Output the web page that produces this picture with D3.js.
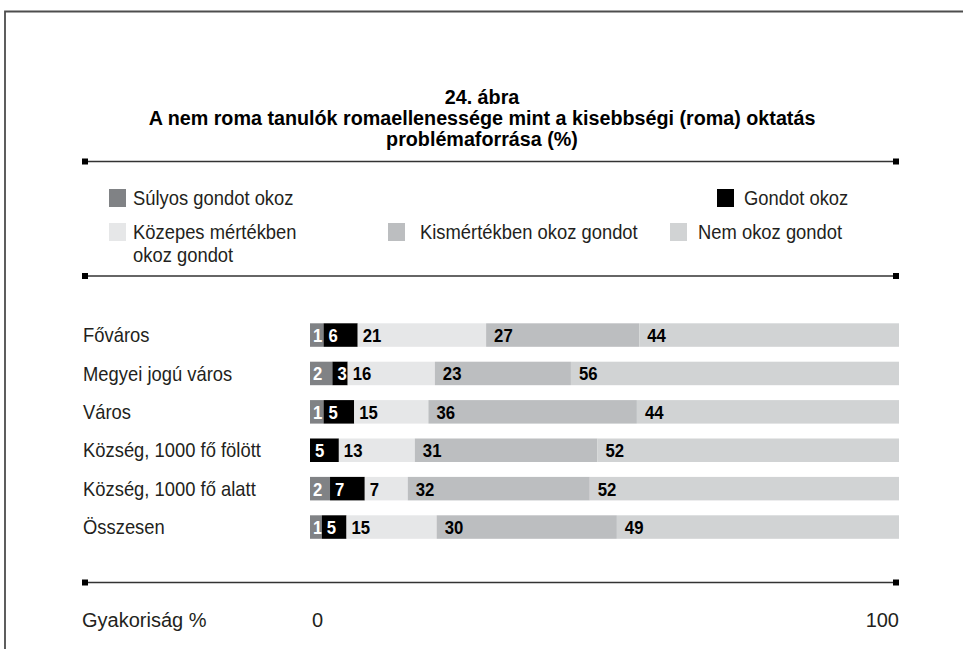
<!DOCTYPE html>
<html>
<head>
<meta charset="utf-8">
<script src="https://cdn.jsdelivr.net/npm/d3@7"></script>
<style>
  body { margin: 0; background: #fff; }
  svg text { font-family: "Liberation Sans", Arial, sans-serif; }
</style>
</head>
<body>
<div id="chart"></div>
<script>
// categories (rows)
var categories = ['Főváros', 'Megyei jogú város', 'Város', 'Község, 1000 fő fölött', 'Község, 1000 fő alatt', 'Összesen']

// series names, in stacking order
var seriesNames = ['Súlyos gondot okoz', 'Gondot okoz', 'Közepes mértékben okoz gondot', 'Kismértékben okoz gondot', 'Nem okoz gondot']

// segment widths (%)
var sulyos   = [2.3, 3.8, 2.3, 0, 3.4, 2.0]
var gondot   = [5.8, 2.6, 5.2, 4.9, 5.9, 4.2]
var kozepes  = [21.8, 14.8, 12.6, 12.9, 7.3, 15.3]
var kismert  = [26.0, 23.1, 35.4, 31.0, 30.9, 30.6]
var nemokoz  = [44.1, 55.7, 44.5, 51.2, 52.5, 47.9]

// numbers printed on the bars
var sulyosLbl  = ['1', '2', '1', '', '2', '1']
var gondotLbl  = ['6', '3', '5', '5', '7', '5']
var kozepesLbl = ['21', '16', '15', '13', '7', '15']
var kismertLbl = ['27', '23', '36', '31', '32', '30']
var nemokozLbl = ['44', '56', '44', '52', '52', '49']

var xTicks = [0, 100]

var colors = ['#808285', '#000000', '#e6e7e8', '#bcbec0', '#d1d3d4']
var labelColors = ['#fff', '#fff', '#000', '#000', '#000']

var width = 963, height = 649
var narrow = 0.92   // horizontal squeeze to mimic the condensed face

var svg = d3.select('#chart').append('svg')
  .attr('width', width).attr('height', height)

// frame (open to the right and bottom)
svg.append('path')
  .attr('d', 'M5,649V11.5H963')
  .attr('fill', 'none').attr('stroke', '#4d4d4d').attr('stroke-width', 1.8)

// title
var title = svg.append('text')
  .attr('transform', 'translate(482,0) scale(0.94,1)')
  .attr('text-anchor', 'middle')
  .style('font-weight', 'bold').style('font-size', '21px')
title.selectAll('tspan')
  .data(['24. ábra', 'A nem roma tanulók romaellenessége mint a kisebbségi (roma) oktatás', 'problémaforrása (%)'])
  .join('tspan')
  .attr('x', 0).attr('y', function(d, i){ return 104 + i * 21 })
  .text(function(d){ return d })

// horizontal rules with square ends
function rule(y){
  svg.append('line').attr('x1', 85).attr('x2', 896).attr('y1', y).attr('y2', y)
    .attr('stroke', '#333').attr('stroke-width', 1.6)
  svg.append('rect').attr('x', 82).attr('y', y - 3).attr('width', 6).attr('height', 6).attr('fill', '#000')
  svg.append('rect').attr('x', 893).attr('y', y - 3).attr('width', 6).attr('height', 6).attr('fill', '#000')
}
rule(161.5)
rule(276)
rule(582.5)

// legend
var legendItems = [
  {i: 0, x: 109, y: 189, tx: 24, lines: ['Súlyos gondot okoz']},
  {i: 2, x: 109, y: 223, tx: 24, lines: ['Közepes mértékben', 'okoz gondot']},
  {i: 3, x: 388, y: 223, tx: 32, lines: ['Kismértékben okoz gondot']},
  {i: 4, x: 670, y: 223, tx: 28, lines: ['Nem okoz gondot']},
  {i: 1, x: 717, y: 189, tx: 27, lines: ['Gondot okoz']}
]
var leg = svg.append('g').selectAll('g').data(legendItems).join('g')
leg.append('rect')
  .attr('x', function(d){ return d.x }).attr('y', function(d){ return d.y })
  .attr('width', 17).attr('height', 18)
  .attr('fill', function(d){ return colors[d.i] })
leg.append('text')
  .attr('transform', function(d){ return 'translate(' + (d.x + d.tx) + ',' + d.y + ') scale(' + narrow + ',1)' })
  .style('font-size', '20px').attr('fill', '#231f20')
  .selectAll('tspan').data(function(d){ return d.lines })
  .join('tspan')
  .attr('x', 0).attr('y', function(d, k){ return 16 + k * 23 })
  .text(function(d){ return d })

// scales
var x = d3.scaleLinear().domain([0, 100]).range([310, 899])
var y = d3.scaleBand().domain(categories).range([323.3, 538.8]).paddingInner(0.388).paddingOuter(0)

// stacked data
var table = categories.map(function(c, j){
  return {cat: c, v0: sulyos[j], v1: gondot[j], v2: kozepes[j], v3: kismert[j], v4: nemokoz[j],
    l0: sulyosLbl[j], l1: gondotLbl[j], l2: kozepesLbl[j], l3: kismertLbl[j], l4: nemokozLbl[j]}
})
var stack = d3.stack().keys(['v0', 'v1', 'v2', 'v3', 'v4'])
var layers = stack(table)

var layerSel = svg.append('g').selectAll('g').data(layers).join('g')
  .attr('fill', function(d, i){ return colors[i] })
layerSel.selectAll('rect').data(function(d){ return d }).join('rect')
  .attr('x', function(d){ return x(d[0]) })
  .attr('width', function(d){ return x(d[1]) - x(d[0]) })
  .attr('y', function(d){ return y(d.data.cat) })
  .attr('height', y.bandwidth())

var offsets = [3, 5, 5, 8, 8]
layerSel.selectAll('text').data(function(d, i){ return d.map(function(s){ return {s: s, i: i} }) }).join('text')
  .attr('transform', function(d){
    return 'translate(' + (x(d.s[0]) + offsets[d.i]) + ',' + (y(d.s.data.cat) + y.bandwidth() / 2) + ') scale(0.88,1)'
  })
  .attr('dy', '0.37em')
  .attr('fill', function(d){ return labelColors[d.i] })
  .style('font-weight', 'bold').style('font-size', '19px')
  .text(function(d){ return d.s.data['l' + d.i] })

// category labels
svg.append('g').selectAll('text').data(categories).join('text')
  .attr('transform', function(d){ return 'translate(83,' + (y(d) + y.bandwidth() / 2) + ') scale(' + narrow + ',1)' })
  .attr('dy', '0.36em')
  .style('font-size', '20px').attr('fill', '#231f20')
  .text(function(d){ return d })

// bottom scale labels
svg.append('text').attr('x', 82).attr('y', 627)
  .style('font-size', '20px').attr('fill', '#231f20').text('Gyakoriság %')
svg.append('g').selectAll('text').data(xTicks).join('text')
  .attr('x', function(d){ return d == 0 ? x(d) + 2 : x(d) })
  .attr('y', 627)
  .attr('text-anchor', function(d){ return d == 0 ? 'start' : 'end' })
  .style('font-size', '20px').attr('fill', '#231f20')
  .text(function(d){ return d })
</script>
</body>
</html>
